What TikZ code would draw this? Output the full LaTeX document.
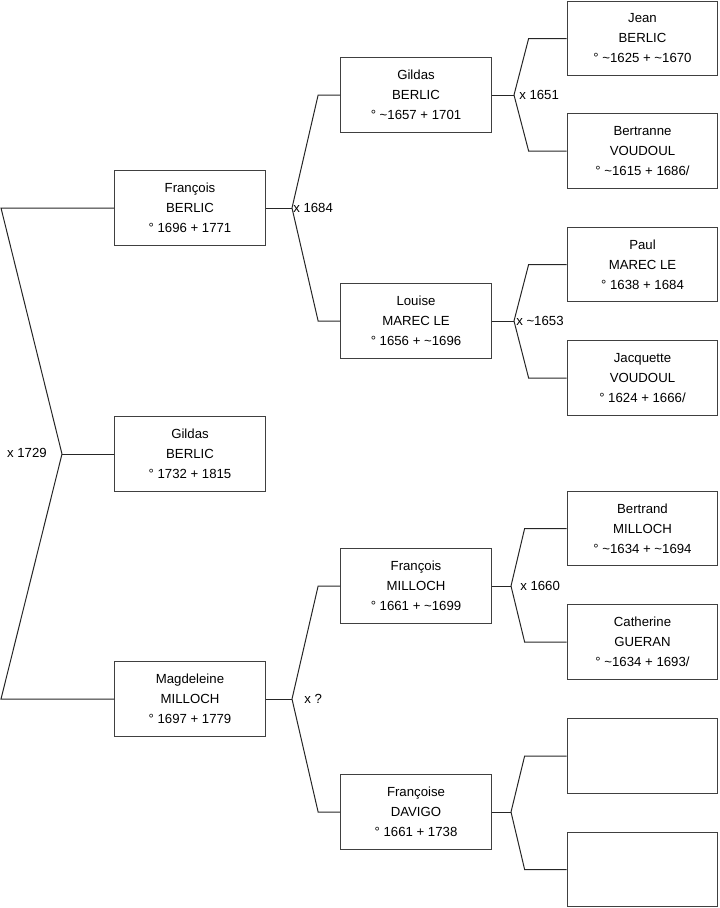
\documentclass[tikz,border=0pt]{standalone}
\usepackage{fontspec}
\setmainfont{Liberation Sans}
\usetikzlibrary{calc}
\newcommand{\ca}{\textasciitilde}

\begin{document}
\begin{tikzpicture}[x=0.75pt,y=-0.75pt,
    person/.style={draw=black!75, line width=0.8pt, minimum width=113pt, minimum height=56pt,
        inner sep=0pt, align=center, font=\fontsize{9.9}{15}\selectfont},
    union/.style={inner sep=0pt, font=\fontsize{9.9}{12}\selectfont},
    link/.style={line width=0.75pt, black!85}]
    \useasboundingbox (0,0) rectangle (719,908);

    % Generation 1
    \node[person] (gildasA) at (190,454) {Gildas\\BERLIC\\° 1732 + 1815};

    % Generation 2
    \node[person] (francoisB) at (190,208) {François\\BERLIC\\° 1696 + 1771};
    \node[person] (magdeleineM) at (190,699) {Magdeleine\\MILLOCH\\° 1697 + 1779};

    % Generation 3
    \node[person] (gildasB) at (416,95) {Gildas\\BERLIC\\° \ca1657 + 1701};
    \node[person] (louiseM) at (416,321) {Louise\\MAREC LE\\° 1656 + \ca1696};
    \node[person] (francoisM) at (416,586) {François\\MILLOCH\\° 1661 + \ca1699};
    \node[person] (francoiseD) at (416,812) {Françoise\\DAVIGO\\° 1661 + 1738};

    % Generation 4
    \node[person] (jeanB) at (642.5,38.5) {Jean\\BERLIC\\° \ca1625 + \ca1670};
    \node[person] (bertranneV) at (642.5,151) {Bertranne\\VOUDOUL\\° \ca1615 + 1686/};
    \node[person] (paulM) at (642.5,264.5) {Paul\\MAREC LE\\° 1638 + 1684};
    \node[person] (jacquetteV) at (642.5,378) {Jacquette\\VOUDOUL\\° 1624 + 1666/};
    \node[person] (bertrandM) at (642.5,528.5) {Bertrand\\MILLOCH\\° \ca1634 + \ca1694};
    \node[person] (catherineG) at (642.5,642) {Catherine\\GUERAN\\° \ca1634 + 1693/};
    \node[person] (unknownA) at (642.5,756) {};
    \node[person] (unknownB) at (642.5,869.5) {};

    % Fork points
    \coordinate (f0) at (62,454);
    \coordinate (f0t) at (1,208);
    \coordinate (f0b) at (1,699);
    \coordinate (f1) at (292,208);
    \coordinate (f2) at (292,699);
    \coordinate (f3) at (514,95);
    \coordinate (f4) at (514,321);
    \coordinate (f5) at (511,586);
    \coordinate (f6) at (511,812);

    % Parents of Gildas
    \draw[link] (gildasA.west) -- (f0);
    \draw[link] (f0) -- (f0t) -- (francoisB.west);
    \draw[link] (f0) -- (f0b) -- (magdeleineM.west);
    \node[union, anchor=east] (m0) at (47,453) {x 1729};

    % Parents of François BERLIC
    \draw[link] (francoisB.east) -- (f1);
    \draw[link] (f1) -- ($(gildasB.west)+(-22,0)$) -- (gildasB.west);
    \draw[link] (f1) -- ($(louiseM.west)+(-22,0)$) -- (louiseM.west);
    \node[union, anchor=west] (m1) at (293,208) {x 1684};

    % Parents of Magdeleine
    \draw[link] (magdeleineM.east) -- (f2);
    \draw[link] (f2) -- ($(francoisM.west)+(-22,0)$) -- (francoisM.west);
    \draw[link] (f2) -- ($(francoiseD.west)+(-22,0)$) -- (francoiseD.west);
    \node[union, anchor=west] (m2) at (304,699) {x ?};

    % Parents of Gildas BERLIC
    \draw[link] (gildasB.east) -- (f3);
    \draw[link] (f3) -- ($(jeanB.west)+(-38,0)$) -- (jeanB.west);
    \draw[link] (f3) -- ($(bertranneV.west)+(-38,0)$) -- (bertranneV.west);
    \node[union, anchor=west] (m3) at (519,95) {x 1651};

    % Parents of Louise
    \draw[link] (louiseM.east) -- (f4);
    \draw[link] (f4) -- ($(paulM.west)+(-38,0)$) -- (paulM.west);
    \draw[link] (f4) -- ($(jacquetteV.west)+(-38,0)$) -- (jacquetteV.west);
    \node[union, anchor=west] (m4) at (516,321) {x \ca1653};

    % Parents of François MILLOCH
    \draw[link] (francoisM.east) -- (f5);
    \draw[link] (f5) -- ($(bertrandM.west)+(-42,0)$) -- (bertrandM.west);
    \draw[link] (f5) -- ($(catherineG.west)+(-42,0)$) -- (catherineG.west);
    \node[union, anchor=west] (m5) at (520,586) {x 1660};

    % Parents of Françoise
    \draw[link] (francoiseD.east) -- (f6);
    \draw[link] (f6) -- ($(unknownA.west)+(-42,0)$) -- (unknownA.west);
    \draw[link] (f6) -- ($(unknownB.west)+(-42,0)$) -- (unknownB.west);

\end{tikzpicture}
\end{document}
